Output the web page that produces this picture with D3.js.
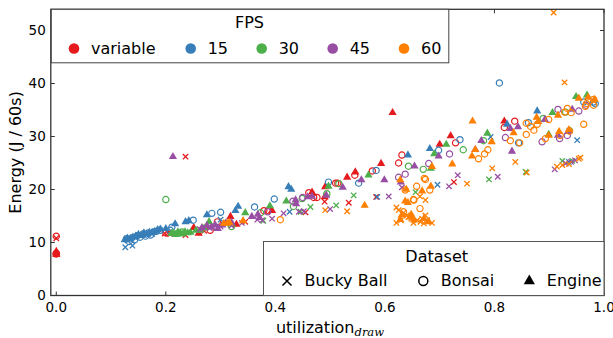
<!DOCTYPE html>
<html>
<head>
<meta charset="utf-8">
<script src="https://cdn.jsdelivr.net/npm/d3@7"></script>
<style>
  body { margin: 0; background: #fff; }
  text { font-family: "DejaVu Sans", sans-serif; fill: #000; }
</style>
</head>
<body>
<svg id="chart" width="613" height="338"></svg>
<script>
const V = 'variable';
const fpsLevels = [V, '15', '30', '45', '60'];
const fpsColors = ['#e41a1c', '#377eb8', '#4daf4a', '#984ea3', '#ff7f00'];
const datasetNames = ['Bucky Ball', 'Bonsai', 'Engine'];
const xTicks = [0, 0.2, 0.4, 0.6, 0.8, 1.0];
const yTicks = [0, 10, 20, 30, 40, 50];

// [utilization, energy, fps]
const buckyBall = [
  [0.0, 10.8, V], [0.198, 11.7, V], [0.204, 11.8, V], [0.208, 11.6, V], [0.236, 11.4, V], [0.27, 12.2, V],
  [0.345, 13.9, V], [0.455, 15.7, V], [0.49, 17.7, V], [0.534, 17.5, V], [0.584, 18.6, V], [0.726, 21.4, V],
  [0.236, 26.2, V],
  [0.126, 9.1, '15'], [0.139, 9.4, '15'], [0.13, 10.4, '15'], [0.145, 10.9, '15'], [0.16, 11.4, '15'],
  [0.175, 11.6, '15'], [0.3, 14.3, '15'], [0.426, 15.8, '15'], [0.586, 18.6, '15'], [0.696, 20.9, '15'],
  [0.793, 29.9, '15'], [0.951, 29.3, '15'], [0.936, 25.2, '15'],
  [0.378, 14.1, '30'], [0.446, 15.8, '30'], [0.464, 16.7, '30'], [0.511, 17.0, '30'], [0.543, 18.9, '30'],
  [0.656, 19.5, '30'], [0.79, 21.9, '30'], [0.857, 23.3, '30'], [0.924, 25.4, '30'], [0.942, 25.4, '30'],
  [0.318, 13.4, '30'],
  [0.262, 12.5, '45'], [0.28, 12.7, '45'], [0.3, 13.0, '45'], [0.32, 13.2, '45'], [0.339, 13.7, '45'],
  [0.367, 14.3, '45'], [0.376, 14.2, '45'], [0.394, 14.5, '45'], [0.415, 15.5, '45'], [0.443, 15.8, '45'],
  [0.452, 15.9, '45'], [0.5, 16.3, '45'], [0.607, 18.7, '45'], [0.631, 20.4, '45'], [0.717, 20.6, '45'],
  [0.733, 22.7, '45'], [0.806, 22.4, '45'], [0.91, 23.8, '45'], [0.93, 24.9, '45'], [0.94, 25.2, '45'],
  [0.947, 25.5, '45'],
  [0.491, 16.1, '60'], [0.531, 15.9, '60'], [0.664, 18.7, '60'], [0.75, 21.1, '60'], [0.796, 24.0, '60'],
  [0.838, 25.2, '60'], [0.859, 23.2, '60'], [0.914, 24.3, '60'], [0.924, 24.6, '60'], [0.936, 24.8, '60'],
  [0.954, 25.8, '60'], [0.957, 26.0, '60'], [0.928, 40.2, '60'], [0.908, 53.4, '60'],
  [0.621, 16.6, '60'], [0.625, 16.1, '60'], [0.621, 13.7, '60'], [0.652, 13.7, '60'], [0.659, 14.2, '60'],
  [0.668, 14.5, '60'], [0.674, 15.1, '60'], [0.677, 14.2, '60'], [0.686, 13.7, '60'], [0.671, 13.6, '60'],
  [0.665, 13.9, '60'], [0.648, 14.5, '60'], [0.629, 14.2, '60'], [0.64, 15.1, '60'], [0.643, 14.8, '60'],
  [0.634, 15.6, '60'], [0.674, 18.0, '60']
];

const bonsai = [
  [0.0, 11.2, V], [0.0, 8.0, V], [0.0, 7.8, V], [0.2, 11.8, V], [0.281, 12.3, V], [0.294, 13.9, V],
  [0.379, 16.0, V], [0.387, 16.0, V], [0.461, 19.4, V], [0.47, 18.5, V], [0.476, 18.5, V], [0.51, 21.2, V],
  [0.514, 21.2, V], [0.545, 22.7, V], [0.577, 23.5, V], [0.631, 26.5, V], [0.625, 25.0, V], [0.729, 28.8, V],
  [0.818, 31.7, V], [0.837, 32.9, V],
  [0.128, 10.7, '15'], [0.133, 10.2, '15'], [0.138, 10.9, '15'], [0.143, 10.5, '15'], [0.148, 11.3, '15'],
  [0.153, 11.0, '15'], [0.158, 11.6, '15'], [0.163, 11.2, '15'], [0.168, 11.8, '15'], [0.172, 11.4, '15'],
  [0.178, 12.0, '15'], [0.183, 12.1, '15'], [0.19, 12.3, '15'], [0.208, 12.3, '15'], [0.211, 12.9, '15'],
  [0.25, 14.2, '15'], [0.284, 15.5, '15'], [0.3, 15.7, '15'], [0.362, 16.7, '15'], [0.398, 18.2, '15'],
  [0.497, 21.4, '15'], [0.552, 21.2, '15'], [0.584, 23.6, '15'], [0.698, 27.4, '15'], [0.737, 29.4, '15'],
  [0.809, 40.1, '15'], [0.844, 28.8, '15'], [0.862, 32.6, '15'], [0.963, 36.5, '15'], [0.981, 36.5, '15'],
  [0.984, 36.2, '15'],
  [0.2, 18.1, '30'], [0.23, 12.0, '30'], [0.32, 13.0, '30'], [0.373, 15.6, '30'], [0.433, 16.8, '30'],
  [0.449, 18.3, '30'], [0.494, 19.2, '30'], [0.516, 21.1, '30'], [0.643, 24.4, '30'], [0.67, 23.8, '30'],
  [0.743, 27.5, '30'], [0.78, 29.2, '30'], [0.889, 33.4, '30'], [0.93, 34.6, '30'], [0.937, 31.1, '30'],
  [0.29, 13.0, '45'], [0.386, 15.8, '45'], [0.432, 17.8, '45'], [0.45, 18.5, '45'], [0.625, 22.3, '45'],
  [0.637, 22.9, '45'], [0.68, 24.9, '45'], [0.718, 26.7, '45'], [0.82, 29.8, '45'], [0.887, 29.0, '45'],
  [0.919, 29.6, '45'], [0.933, 30.2, '45'], [0.916, 35.1, '45'], [0.954, 34.8, '45'], [0.967, 35.9, '45'],
  [0.409, 14.3, '60'], [0.634, 15.8, '60'], [0.653, 18.0, '60'], [0.664, 16.4, '60'], [0.682, 19.9, '60'],
  [0.658, 20.6, '60'], [0.672, 22.1, '60'], [0.637, 19.9, '60'], [0.674, 21.9, '60'], [0.652, 18.1, '60'],
  [0.771, 25.8, '60'], [0.782, 26.7, '60'], [0.788, 27.5, '60'], [0.829, 29.2, '60'], [0.846, 28.8, '60'],
  [0.858, 32.5, '60'], [0.866, 31.9, '60'], [0.878, 32.3, '60'], [0.899, 33.2, '60'], [0.872, 31.2, '60'],
  [0.858, 30.4, '60'], [0.893, 29.6, '60'], [0.963, 32.3, '60'], [0.928, 34.6, '60'], [0.933, 35.3, '60'],
  [0.94, 34.5, '60'], [0.966, 35.7, '60'], [0.981, 37.0, '60'], [0.968, 36.2, '60'], [0.92, 30.2, '60'],
  [0.937, 31.0, '60'], [0.981, 35.9, '60']
];

const engine = [
  [0.0, 8.0, V], [0.0, 8.3, V], [0.0, 7.7, V], [0.251, 12.8, V], [0.26, 11.7, V], [0.318, 14.9, V],
  [0.329, 13.4, V], [0.394, 16.0, V], [0.467, 19.5, V], [0.49, 18.6, V], [0.491, 20.5, V], [0.531, 22.3, V],
  [0.546, 23.3, V], [0.593, 24.9, V], [0.614, 34.5, V], [0.7, 28.5, V], [0.72, 30.1, V], [0.818, 32.9, V],
  [0.125, 10.5, '15'], [0.13, 10.8, '15'], [0.135, 10.6, '15'], [0.14, 11.0, '15'], [0.145, 11.2, '15'],
  [0.15, 11.5, '15'], [0.155, 11.3, '15'], [0.16, 11.8, '15'], [0.165, 11.6, '15'], [0.17, 11.9, '15'],
  [0.175, 11.9, '15'], [0.18, 12.1, '15'], [0.185, 12.4, '15'], [0.19, 12.5, '15'], [0.2, 12.6, '15'],
  [0.217, 13.5, '15'], [0.236, 13.9, '15'], [0.242, 14.1, '15'], [0.275, 15.2, '15'], [0.327, 16.0, '15'],
  [0.332, 16.8, '15'], [0.424, 20.5, '15'], [0.429, 20.0, '15'], [0.642, 26.5, '15'], [0.682, 27.7, '15'],
  [0.823, 32.3, '15'], [0.878, 34.8, '15'],
  [0.21, 11.7, '30'], [0.214, 11.8, '30'], [0.218, 11.5, '30'], [0.222, 12.0, '30'], [0.226, 11.8, '30'],
  [0.23, 11.6, '30'], [0.235, 12.0, '30'], [0.24, 11.8, '30'], [0.245, 11.9, '30'], [0.255, 12.3, '30'],
  [0.263, 12.3, '30'], [0.27, 12.7, '30'], [0.279, 13.9, '30'], [0.345, 15.6, '30'], [0.39, 16.9, '30'],
  [0.42, 17.8, '30'], [0.497, 20.6, '30'], [0.57, 22.7, '30'], [0.684, 24.0, '30'], [0.69, 26.7, '30'],
  [0.712, 28.5, '30'], [0.787, 30.6, '30'], [0.899, 30.4, '30'], [0.906, 34.5, '30'], [0.949, 37.5, '30'],
  [0.969, 37.8, '30'],
  [0.213, 26.2, '45'], [0.266, 12.8, '45'], [0.275, 13.2, '45'], [0.283, 12.9, '45'], [0.29, 13.3, '45'],
  [0.295, 12.6, '45'], [0.303, 13.3, '45'], [0.31, 13.7, '45'], [0.32, 13.8, '45'], [0.357, 14.9, '45'],
  [0.368, 15.3, '45'], [0.371, 14.7, '45'], [0.437, 18.0, '45'], [0.438, 17.3, '45'], [0.459, 18.6, '45'],
  [0.467, 18.7, '45'], [0.493, 18.9, '45'], [0.523, 20.4, '45'], [0.557, 21.8, '45'], [0.599, 21.8, '45'],
  [0.629, 21.4, '45'], [0.654, 24.4, '45'], [0.698, 26.3, '45'], [0.765, 27.5, '45'], [0.776, 29.2, '45'],
  [0.829, 31.5, '45'], [0.843, 31.8, '45'], [0.832, 27.2, '45'], [0.892, 33.2, '45'], [0.942, 35.1, '45'],
  [0.935, 30.9, '45'], [0.916, 30.2, '45'],
  [0.306, 13.6, '60'], [0.312, 13.6, '60'], [0.316, 13.8, '60'], [0.341, 14.1, '60'], [0.563, 17.0, '60'],
  [0.628, 21.8, '60'], [0.639, 20.0, '60'], [0.668, 19.7, '60'], [0.684, 20.6, '60'], [0.637, 17.8, '60'],
  [0.642, 17.5, '60'], [0.631, 15.2, '60'], [0.628, 14.3, '60'], [0.647, 14.8, '60'], [0.653, 14.2, '60'],
  [0.671, 14.5, '60'], [0.68, 13.9, '60'], [0.648, 15.3, '60'], [0.686, 24.3, '60'], [0.723, 24.8, '60'],
  [0.759, 26.3, '60'], [0.765, 27.5, '60'], [0.76, 32.9, '60'], [0.795, 29.0, '60'], [0.835, 30.7, '60'],
  [0.877, 33.6, '60'], [0.88, 32.8, '60'], [0.916, 34.0, '60'], [0.899, 30.2, '60'], [0.918, 30.9, '60'],
  [0.936, 31.3, '60'], [0.954, 37.2, '60'], [0.971, 37.4, '60'], [0.983, 37.0, '60']
];

const svg = d3.select('#chart');
const plotLeft = 50.8, plotRight = 604, plotTop = 9.3, plotBottom = 295.5;

const x = d3.scaleLinear().domain([-0.01, 1.0]).range([plotLeft, plotRight]);
const y = d3.scaleLinear().domain([0, 54]).range([plotBottom, plotTop]);
const color = d3.scaleOrdinal().domain(fpsLevels).range(fpsColors);

svg.append('rect').attr('width', 613).attr('height', 338).attr('fill', '#fff');

svg.append('clipPath').attr('id', 'plot-clip')
  .append('rect').attr('x', plotLeft).attr('y', plotTop)
  .attr('width', plotRight - plotLeft).attr('height', plotBottom - plotTop);

// marker shapes, s = half width
const markerPath = {
  'Bucky Ball': (s) => `M${-s},${-s}L${s},${s}M${-s},${s}L${s},${-s}`,
  'Bonsai': (s) => d3.symbol(d3.symbolCircle, Math.PI * s * s)(),
  'Engine': (s) => d3.symbol(d3.symbolTriangle, s * s * Math.sqrt(3))()
};

function drawMarker(g, name, col, px, py, s) {
  const p = g.append('path')
    .attr('transform', `translate(${px},${py})`)
    .attr('d', markerPath[name](s));
  if (name === 'Engine') p.attr('fill', col).attr('stroke', 'none');
  else p.attr('fill', 'none').attr('stroke', col).attr('stroke-width', name === 'Bonsai' ? 1.2 : 1.3);
  return p;
}

const points = svg.append('g').attr('clip-path', 'url(#plot-clip)');
const groups = [['Bucky Ball', buckyBall], ['Bonsai', bonsai], ['Engine', engine]];
fpsLevels.forEach((fps) => {
  groups.forEach(([name, rows]) => {
    rows.filter((d) => d[2] === fps).forEach((d) => {
      drawMarker(points, name, color(fps), x(d[0]), y(d[1]),
        name === 'Bucky Ball' ? 2.7 : name === 'Bonsai' ? 3.1 : 4.1);
    });
  });
});

// axes with inward ticks on all four sides
const axisColor = '#333';
const tickLen = 4;
const axes = svg.append('g');
xTicks.forEach((t) => {
  axes.append('line').attr('x1', x(t)).attr('x2', x(t)).attr('y1', plotBottom).attr('y2', plotBottom - tickLen)
    .attr('stroke', axisColor);
  axes.append('line').attr('x1', x(t)).attr('x2', x(t)).attr('y1', plotTop).attr('y2', plotTop + tickLen)
    .attr('stroke', axisColor);
  axes.append('text').attr('x', x(t)).attr('y', plotBottom + 16).attr('text-anchor', 'middle')
    .attr('font-size', 13.5).text(d3.format('.1f')(t));
});
yTicks.forEach((t) => {
  axes.append('line').attr('x1', plotLeft).attr('x2', plotLeft + tickLen).attr('y1', y(t)).attr('y2', y(t))
    .attr('stroke', axisColor);
  axes.append('line').attr('x1', plotRight).attr('x2', plotRight - tickLen).attr('y1', y(t)).attr('y2', y(t))
    .attr('stroke', axisColor);
  axes.append('text').attr('x', plotLeft - 5).attr('y', y(t)).attr('dy', '0.35em').attr('text-anchor', 'end')
    .attr('font-size', 13.5).text(t);
});
axes.append('rect').attr('x', plotLeft).attr('y', plotTop)
  .attr('width', plotRight - plotLeft).attr('height', plotBottom - plotTop)
  .attr('fill', 'none').attr('stroke', axisColor).attr('stroke-width', 1.3);

// axis labels
svg.append('text').attr('transform', `translate(21,${(plotTop + plotBottom) / 2}) rotate(-90)`)
  .attr('text-anchor', 'middle').attr('font-size', 16).text('Energy (J / 60s)');
const xl = svg.append('text').attr('x', 330).attr('y', 333).attr('text-anchor', 'middle').attr('font-size', 16);
xl.append('tspan').text('utilization');
xl.append('tspan').attr('font-family', '"DejaVu Serif", serif').attr('font-style', 'italic')
  .attr('font-size', 11.5).attr('dy', 3).text('draw');

// FPS legend
const fpsLeg = svg.append('g');
fpsLeg.append('rect').attr('x', plotLeft + 0.5).attr('y', plotTop).attr('width', 397.5).attr('height', 53.5)
  .attr('fill', '#fff').attr('stroke', '#444').attr('stroke-width', 1);
fpsLeg.append('text').attr('x', 249.5).attr('y', 22.7).attr('dy', '0.35em').attr('text-anchor', 'middle')
  .attr('font-size', 16).text('FPS');
const fpsX = [74, 190.7, 261.7, 332.7, 404];
fpsLevels.forEach((f, i) => {
  fpsLeg.append('circle').attr('cx', fpsX[i]).attr('cy', 48.5).attr('r', 5.3).attr('fill', color(f));
  fpsLeg.append('text').attr('x', fpsX[i] + 17).attr('y', 48.5).attr('dy', '0.35em')
    .attr('font-size', 16).text(f);
});

// Dataset legend
const dsLeg = svg.append('g');
dsLeg.append('rect').attr('x', 263.5).attr('y', 241.5)
  .attr('width', plotRight - 263.5).attr('height', plotBottom - 241.5)
  .attr('fill', '#fff').attr('stroke', '#555').attr('stroke-width', 1);
dsLeg.append('text').attr('x', 436.7).attr('y', 256.5).attr('dy', '0.35em').attr('text-anchor', 'middle')
  .attr('font-size', 16).text('Dataset');
const dsX = [287, 423.3, 529.3];
datasetNames.forEach((name, i) => {
  const m = drawMarker(dsLeg, name, '#000', dsX[i], 281, name === 'Engine' ? 5.6 : 4.5);
  if (name !== 'Engine') m.attr('stroke-width', 1.5);
  dsLeg.append('text').attr('x', dsX[i] + 17.5).attr('y', 280).attr('dy', '0.35em')
    .attr('font-size', 16).text(name);
});
</script>
</body>
</html>
